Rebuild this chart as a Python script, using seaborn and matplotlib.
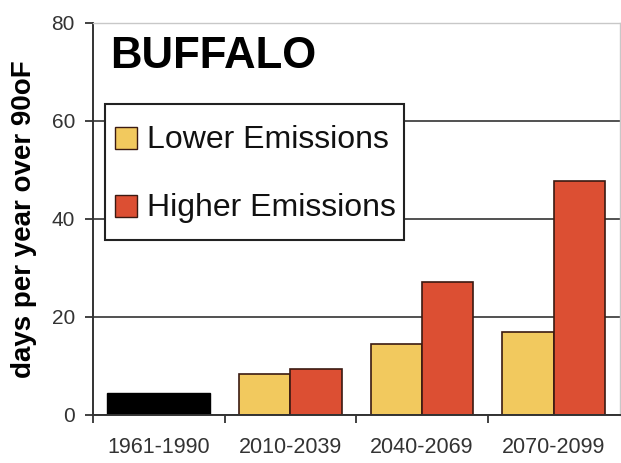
import seaborn as sns
import matplotlib.pyplot as plt
import pandas as pd
from matplotlib.patches import Patch, Rectangle
from matplotlib.legend_handler import HandlerPatch
from matplotlib.ticker import FixedLocator

periods = ['1961-1990', '2010-2039', '2040-2069', '2070-2099']
hist_period = ['1961-1990']
hist_days = [4.5]
future_periods = ['2010-2039', '2040-2069', '2070-2099']
lower_days = [8.4, 14.5, 17.0]
higher_days = [9.4, 27.1, 47.8]
scenarios = ['Lower Emissions', 'Higher Emissions']
colors = ['#F2C95E', '#DC4F33']

sns.set_style('white')
plt.rcParams['font.family'] = ['Liberation Sans', 'DejaVu Sans']

hist = pd.DataFrame({'period': hist_period, 'days': hist_days})
future = pd.DataFrame({
    'period': future_periods * 2,
    'scenario': [scenarios[0]] * 3 + [scenarios[1]] * 3,
    'days': lower_days + higher_days,
})

fig = plt.figure(figsize=(6.21, 4.63), dpi=100)
ax = fig.add_axes([93 / 621, 48 / 463, 526.5 / 621, 392 / 463])

sns.barplot(data=hist, x='period', y='days', order=periods, color='black',
            saturation=1, width=0.78, edgecolor='black', linewidth=1, ax=ax)
sns.barplot(data=future, x='period', y='days', hue='scenario', order=periods,
            hue_order=scenarios, palette=colors, saturation=1, width=0.78,
            edgecolor='#3b1a12', linewidth=1.2, legend=False, ax=ax)

ax.set_ylim(0, 80)
ax.set_xlim(-0.5, 3.5)
ax.set_yticks([0, 20, 40, 60, 80])
ax.set_axisbelow(True)
ax.yaxis.grid(True, color='#333333', linewidth=1.2)
ax.get_ygridlines()[-1].set_color('#c0c0c0')

for s in ['top', 'right']:
    ax.spines[s].set_color('#c8c8c8')
    ax.spines[s].set_linewidth(1)
for s in ['left', 'bottom']:
    ax.spines[s].set_color('#333333')
    ax.spines[s].set_linewidth(1.4)

ax.tick_params(axis='y', which='major', direction='out', length=6, width=1.3,
               color='#333333', labelsize=15, labelcolor='#333333', pad=7, left=True)
ax.tick_params(axis='x', which='major', length=0, labelsize=15.5,
               labelcolor='#333333', pad=16)
ax.xaxis.set_minor_locator(FixedLocator([-0.5, 0.5, 1.5, 2.5]))
ax.tick_params(axis='x', which='minor', direction='out', length=6, width=1.3,
               color='#333333', bottom=True)

ax.set_xlabel('')
ax.set_ylabel('days per year over 90oF', fontsize=20, fontweight='bold', color='black')
ax.yaxis.set_label_coords(-0.106, 0.5)

ax.text(0.032, 0.885, 'BUFFALO', transform=ax.transAxes, fontsize=31.5,
        fontweight='bold', ha='left', va='baseline', color='black')


# small square swatch centred in a taller legend row
def square_patch(legend, orig_handle, xdescent, ydescent, width, height, fontsize):
    s = 0.69 * fontsize
    return Rectangle((-xdescent + (width - s) / 2, -ydescent + (height - s) / 2), s, s)


handles = [Patch(facecolor=c, edgecolor='#3b1a12', linewidth=1) for c in colors]
leg = ax.legend(handles, scenarios, loc='upper left', bbox_to_anchor=(0.023, 0.793),
                borderaxespad=0, fontsize=23, frameon=True, fancybox=False,
                framealpha=1, edgecolor='#222222', handlelength=0.72,
                handleheight=2.05, handletextpad=0.3, labelspacing=0.53,
                borderpad=0.28,
                handler_map={Patch: HandlerPatch(patch_func=square_patch)})
leg.get_frame().set_linewidth(1.5)
for t in leg.get_texts():
    t.set_color('#111111')

plt.savefig('out.png', dpi=100)
